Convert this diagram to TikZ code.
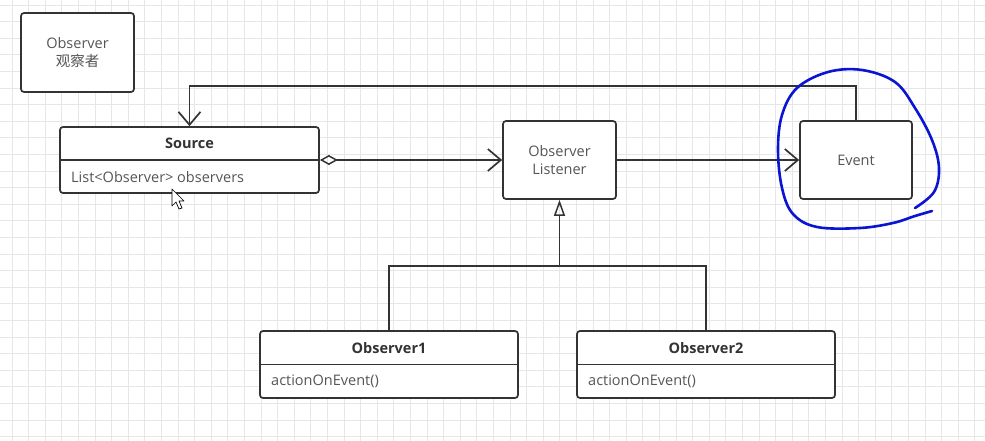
\documentclass[tikz,border=0pt]{standalone}
\usepackage{fontspec}
\setmainfont{Open Sans}
\newfontfamily\cjk{Noto Sans CJK SC}
\usetikzlibrary{arrows.meta}
\definecolor{ln}{HTML}{333333}
\definecolor{tx}{HTML}{555555}
\definecolor{gridc}{HTML}{E6E6E6}
\definecolor{pen}{HTML}{0A14D2}
\begin{document}
\begin{tikzpicture}[x=1pt,y=-1pt,
  box/.style={draw=ln, line width=1.7pt, rounded corners=3pt, fill=white, inner sep=0pt},
  lbl/.style={text=tx, font=\fontsize{14.5}{18}\selectfont, align=center, inner sep=0pt},
  hdr/.style={text=ln, font=\bfseries\fontsize{14.5}{16}\selectfont, inner sep=0pt},
  conn/.style={draw=ln, line width=1.7pt},
  barb/.style={-{Straight Barb[length=13pt,width=22pt,line width=1.7pt]}},
]
\useasboundingbox (0,0) rectangle (985,441);
\fill[white] (0,0) rectangle (985,441);
\foreach \i in {0,...,59} \draw[gridc, line width=0.9pt] ({12+16.6*\i},0) -- ({12+16.6*\i},441);
\foreach \i in {0,...,26} \draw[gridc, line width=0.9pt] (0,{5+16.6*\i}) -- (985,{5+16.6*\i});

% Legend box
\node[box, minimum width=113pt, minimum height=79pt] (obs) at (77.5,52.5) {};
\node[lbl] (obst) at (obs) {Observer\\{\cjk 观察者}};

% Source class
\node[box, minimum width=259pt, minimum height=66pt] (src) at (189.5,160) {};
\draw[conn] (src.west) -- (src.east);
\node[hdr] (srch) at (189.5,143.5) {Source};
\node[lbl, anchor=west] (srcb) at (71,177) {List<Observer> observers};

% Listener and Event
\node[box, minimum width=113pt, minimum height=78pt] (lis) at (559.5,160) {};
\node[lbl] (list) at (lis) {Observer\\Listener};
\node[box, minimum width=112pt, minimum height=78pt] (evt) at (856,160) {};
\node[lbl] (evtt) at (evt) {Event};

% Observer1 and Observer2
\node[box, minimum width=258pt, minimum height=67pt] (o1) at (389,364.5) {};
\draw[conn] (o1.west) -- (o1.east);
\node[hdr] (o1h) at (389,348.5) {Observer1};
\node[lbl, anchor=west] (o1b) at (271,381.5) {actionOnEvent()};
\node[box, minimum width=258pt, minimum height=67pt] (o2) at (706,364.5) {};
\draw[conn] (o2.west) -- (o2.east);
\node[hdr] (o2h) at (706,348.5) {Observer2};
\node[lbl, anchor=west] (o2b) at (588,381.5) {actionOnEvent()};

% Connectors
\draw[conn, {Diamond[open,length=18pt,width=10pt,line width=1.5pt]}-{Straight Barb[length=13pt,width=22pt,line width=1.7pt]}] (src.east) -- (lis.west);
\draw[conn, barb] (lis.east) -- (evt.west);
\draw[conn, barb] (evt.north) -- ++(0,-34) -| (src.north);
\coordinate (j) at (559.5,266);
\draw[conn] (o1.north) |- (j);
\draw[conn] (o2.north) |- (j);
\draw[conn, -{Triangle[open,length=16pt,width=11pt,line width=1.5pt]}] (j) -- (lis.south);

% mouse cursor
\draw[black, fill=white, line width=0.7pt, line join=round]
  (172,189) -- (172,206) -- (176,202) -- (179,209) -- (182,208) -- (179,201) -- (184,201) -- cycle;

% blue hand-drawn loop
\draw[pen, line width=2.6pt, line cap=round, line join=round]
  plot[smooth, tension=0.6] coordinates {
   (932,211) (915,216) (893,223) (860,228) (817,227) (793,214) (782,188)
   (778,150) (782,115) (797,88) (828,72) (862,70) (895,82) (915,108)
   (932,140) (939,168) (934,192) (915,208)};
\end{tikzpicture}
\end{document}
